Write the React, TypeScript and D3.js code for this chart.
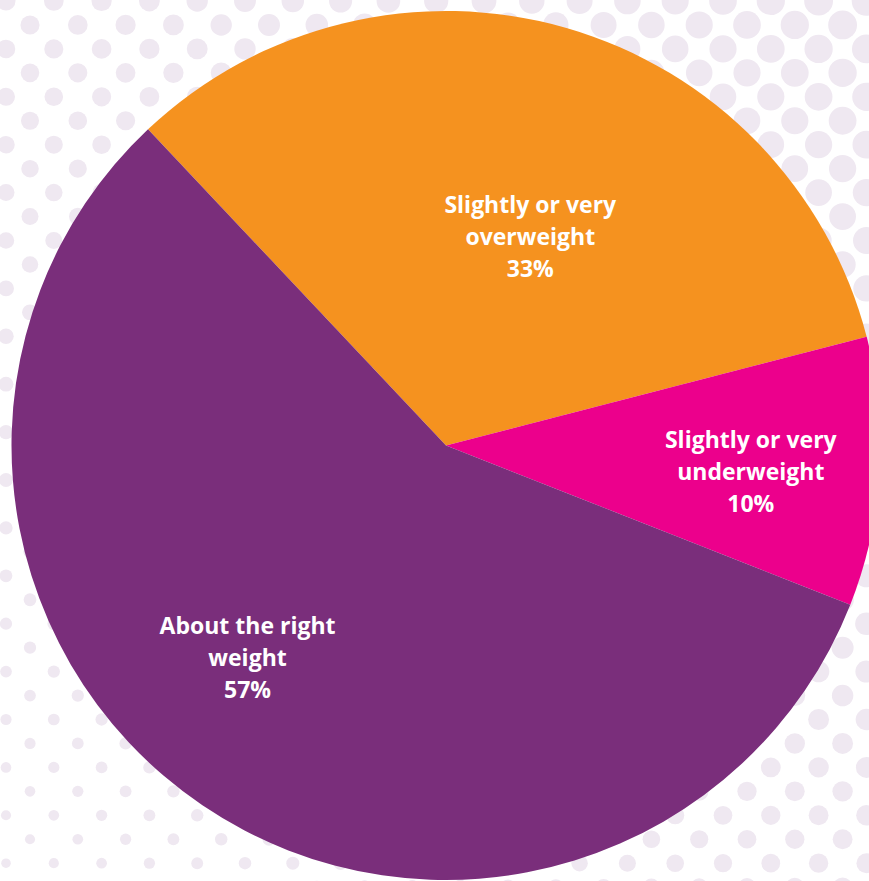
import React from "react";
import * as d3 from "d3";

const categories = [
  ["Slightly or very", "overweight"],
  ["Slightly or very", "underweight"],
  ["About the right", "weight"],
];
const values = [33, 10, 57];
const colors = ["#F5921F", "#EC008C", "#7A2E7B"];
// label placement: polar angle (deg, clockwise from 12 o'clock) and radius
const labelAngles = [22, 95, 223];
const labelRadii = [225, 306, 291];

const W = 869;
const H = 881;
const CX = 446;
const CY = 445.5;
const R = 434.5;
const START = (-43.3 * Math.PI) / 180;

export default function App() {
  const pie = d3
    .pie<number>()
    .sort(null)
    .startAngle(START)
    .endAngle(START + 2 * Math.PI);
  const arcs = pie(values);
  const arc = d3.arc<d3.PieArcDatum<number>>().innerRadius(0).outerRadius(R);

  // background dot pattern
  const dots: { x: number; y: number; r: number }[] = [];
  const dx = 47.8;
  const dy = 23.95;
  for (let row = 0; row * dy < H + 20; row++) {
    const y = 1 + row * dy;
    const off = row % 2 === 0 ? 6 : 30;
    for (let x = off - dx; x < W + 20; x += dx) {
      const r = Math.max(3, 9.5 + 0.006 * x - 0.0055 * y);
      dots.push({ x, y, r });
    }
  }

  return (
    <svg
      width={W}
      height={H}
      style={{ position: "absolute", left: 0, top: 0, background: "#fff" }}
    >
      <g>
        {dots.map((d, i) => (
          <circle key={i} cx={d.x} cy={d.y} r={d.r} fill="#EFE8F1" />
        ))}
      </g>
      <g transform={`translate(${CX},${CY})`}>
        {arcs.map((a, i) => (
          <path key={i} d={arc(a) || ""} fill={colors[i]} />
        ))}
        {arcs.map((a, i) => {
          const [lx, ly] = d3.pointRadial(
            (labelAngles[i] * Math.PI) / 180,
            labelRadii[i]
          );
          const lines = [...categories[i], `${values[i]}%`];
          return (
            <text
              key={"t" + i}
              x={lx}
              y={ly}
              textAnchor="middle"
              fill="#fff"
              fontFamily="'Open Sans', sans-serif"
              fontWeight={700}
              fontSize={23}
            >
              {lines.map((l, j) => (
                <tspan key={j} x={lx} y={ly + (j - 1) * 32} dy="0.35em">
                  {l}
                </tspan>
              ))}
            </text>
          );
        })}
      </g>
    </svg>
  );
}
